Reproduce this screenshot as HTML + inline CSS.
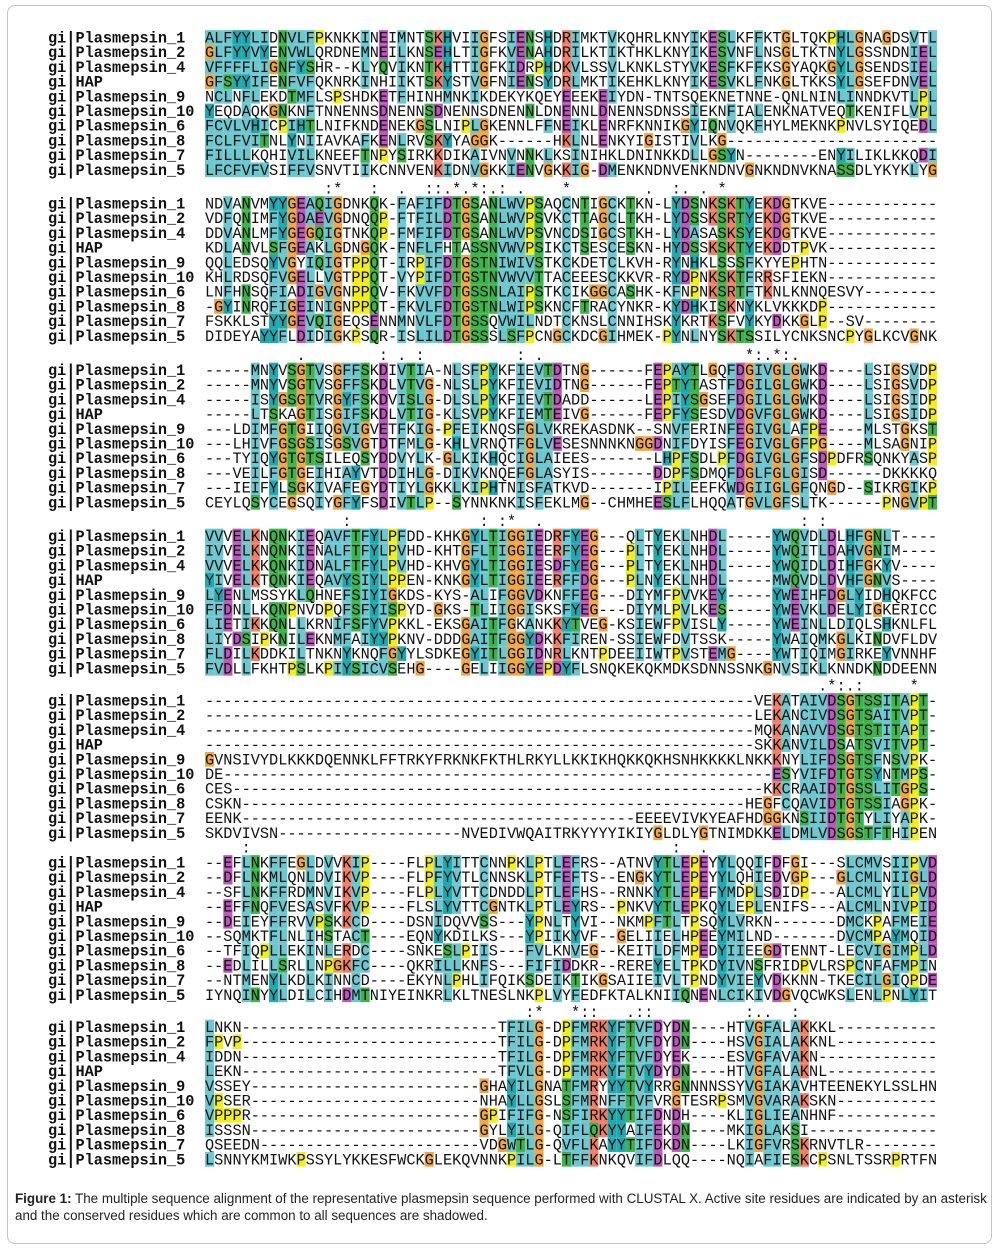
<!DOCTYPE html>
<html><head><meta charset="utf-8">
<style>
html,body{margin:0;padding:0;background:#fff;}
body{width:1000px;height:1250px;position:relative;overflow:hidden;}
#frame{position:absolute;left:7px;top:5px;width:985px;height:1239px;border:1px solid #c4c4c4;border-radius:8px;box-sizing:border-box;}
#caption{position:absolute;left:15px;top:1190px;font-family:"Liberation Sans",sans-serif;font-size:13.4px;line-height:17px;color:#222;white-space:nowrap;}
svg{position:absolute;left:0;top:0;}
</style></head>
<body>
<div id="frame"></div>
<svg id="aln" width="1000" height="1190"></svg>
<div id="caption"><b>Figure 1:</b> The multiple sequence alignment of the representative plasmepsin sequence performed with CLUSTAL X. Active site residues are indicated by an asterisk<br>and the conserved residues which are common to all sequences are shadowed.</div>
<script>
const names = ["gi|Plasmepsin_1","gi|Plasmepsin_2","gi|Plasmepsin_4","gi|HAP","gi|Plasmepsin_9","gi|Plasmepsin_10","gi|Plasmepsin_6","gi|Plasmepsin_8","gi|Plasmepsin_7","gi|Plasmepsin_5"];
const block1 = [
"ALFYYLIDNVLFPKNKKINEIMNTSKHVIIGFSIENSHDRIMKTVKQHRLKNYIKESLKFFKTGLTQKPHLGNAGDSVTL",
"GLFYYVYENVWLQRDNEMNEILKNSEHLTIGFKVENAHDRILKTIKTHKLKNYIKESVNFLNSGLTKTNYLGSSNDNIEL",
"VFFFFLIGNFYSHR--KLYQVIKNTKHTTIGFKIDRPHDKVLSSVLKNKLSTYVKESFKFFKSGYAQKGYLGSENDSIEL",
"GFSYYIFENFVFQKNRKINHIIKTSKYSTVGFNIENSYDRLMKTIKEHKLKNYIKESVKLFNKGLTKKSYLGSEFDNVEL",
"NCLNFLEKDTMFLSPSHDKETFHINHMNKIKDEKYKQEYEEEKEIYDN-TNTSQEKNETNNE-QNLNINLINNDKVTLPL",
"YEQDAQKGNKNFTNNENNSDNENNSDNENNSDNENNLDNENNLDNENNSDNSSIEKNFIALENKNATVEQTKENIFLVPL",
"FCVLVHICPIHTLNIFKNDENEKGSLNIPLGKENNLFFNEIKLENRFKNNIKGYIQNVQKFHYLMEKNKPNVLSYIQEDL",
"FCLFVITNLYNIIAVKAFKENLRVSKYYAGGK------HKLNLENKYIGISTIVLKG-----------------------",
"FILLLKQHIVILKNEEFTNPYSIRKKDIKAIVNVNNKLKSINIHKLDNINKKDLLGSYN--------ENYILIKLKKQDI",
"LFCFVFVSIFFVSNVTIIKCNNVENKIDNVGKKIENVGKKIG-DMENKNDNVENKNDNVGNKNDNVKNASSDLYKYKLYG"];
const block2 = [
"NDVANVMYYGEAQIGDNKQK-FAFIFDTGSANLWVPSAQCNTIGCKTKN-LYDSNKSKTYEKDGTKVE------------",
"VDFQNIMFYGDAEVGDNQQP-FTFILDTGSANLWVPSVKCTTAGCLTKH-LYDSSKSRTYEKDGTKVE------------",
"DDVANLMFYGEGQIGTNKQP-FMFIFDTGSANLWVPSVNCDSIGCSTKH-LYDASASKSYEKDGTKVE------------",
"KDLANVLSFGEAKLGDNGQK-FNFLFHTASSNVWVPSIKCTSESCESKN-HYDSSKSKTYEKDDTPVK------------",
"QQLEDSQYVGYIQIGTPPQT-IRPIFDTGSTNIWIVSTKCKDETCLKVH-RYNHKLSSSFKYYEPHTN------------",
"KHLRDSQFVGELLVGTPPQT-VYPIFDTGSTNVWVVTTACEEESCKKVR-RYDPNKSKTFRRSFIEKN------------",
"LNFHNSQFIADIGVGNPPQV-FKVVFDTGSSNLAIPSTKCIKGGCASHK-KFNPNKSRTFTKNLKNNQESVY--------",
"-GYINRQFIGEINIGNPPQT-FKVLFDTGSTNLWIPSKNCFTRACYNKR-KYDHKISKNYKLVKKKDP------------",
"FSKKLSTYYGEVQIGEQSENNMNVLFDTGSSQVWILNDTCKNSLCNNIHSKYKRTKSFVYKYDKKGLP--SV--------",
"DIDEYAYYFLDIDIGKPSQR-ISLILDTGSSSLSFPCNGCKDCGIHMEK-PYNLNYSKTSSILYCNKSNCPYGLKCVGNK"];
const block3 = [
"-----MNYVSGTVSGFFSKDIVTIA-NLSFPYKFIEVTDTNG------FEPAYTLGQFDGIVGLGWKD----LSIGSVDP",
"-----MNYVSGTVSGFFSKDLVTVG-NLSLPYKFIEVIDTNG------FEPTYTASTFDGILGLGWKD----LSIGSVDP",
"-----ISYGSGTVRGYFSKDVISLG-DLSLPYKFIEVTDADD------LEPIYSGSEFDGILGLGWKD----LSIGSIDP",
"-----LTSKAGTISGIFSKDLVTIG-KLSVPYKFIEMTEIVG------FEPFYSESDVDGVFGLGWKD----LSIGSIDP",
"---LDIMFGTGIIQGVIGVETFKIG-PFEIKNQSFGLVKREKASDNK--SNVFERINFEGIVGLAFPE----MLSTGKST",
"---LHIVFGSGSISGSVGTDTFMLG-KHLVRNQTFGLVESESNNNKNGGDNIFDYISFEGIVGLGFPG----MLSAGNIP",
"---TYIQYGTGTSILEQSYDDVYLK-GLKIKHQCIGLAIEES-------LHPFSDLPFDGIVGLGFSDPDFRSQNKYASP",
"---VEILFGTGEIHIAYVTDDIHLG-DIKVKNQEFGLASYIS-------DDPFSDMQFDGLFGLGISD------DKKKKQ",
"---IEIFYLSGKIVAFEGYDTIYLGKKLKIPHTNISFATKVD-------IPILEEFKWDGIIGLGFQNGD--SIKRGIKP",
"CEYLQSYCEGSQIYGFYFSDIVTLP--SYNNKNKISFEKLMG--CHMHEESLFLHQQATGVLGFSLTK------PNGVPT"];
const block4 = [
"VVVELKNQNKIEQAVFTFYLPFDD-KHKGYLTIGGIEDRFYEG---QLTYEKLNHDL-----YWQVDLDLHFGNLT----",
"IVVELKNQNKIENALFTFYLPVHD-KHTGFLTIGGIEERFYEG---PLTYEKLNHDL-----YWQITLDAHVGNIM----",
"VVVELKKQNKIDNALFTFYLPVHD-KHVGYLTIGGIESDFYEG---PLTYEKLNHDL-----YWQIDLDIHFGKYV----",
"YIVELKTQNKIEQAVYSIYLPPEN-KNKGYLTIGGIEERFFDG---PLNYEKLNHDL-----MWQVDLDVHFGNVS----",
"LYENLMSSYKLQHNEFSIYIGKDS-KYS-ALIFGGVDKNFFEG---DIYMFPVVKEY-----YWEIHFDGLYIDHQKFCC",
"FFDNLLKQNPNVDPQFSFYISPYD-GKS-TLIIGGISKSFYEG---DIYMLPVLKES-----YWEVKLDELYIGKERICC",
"LIETIKKQNLLKRNIFSFYVPKKL-EKSGAITFGKANKKYTVEG-KSIEWFPVISLY-----YWEINLLDIQLSHKNLFL",
"LIYDSIPKNILEKNMFAIYYPKNV-DDDGAITFGGYDKKFIREN-SSIEWFDVTSSK-----YWAIQMKGLKINDVFLDV",
"FLDILKDDKILTNKNYKNQFGYYLSDKEGYITLGGIDNRLKNTPDEEIIWTPVSTEMG----YWTIQIMGIRKEYVNNHF",
"FVDLLFKHTPSLKPIYSICVSEHG----GELIIGGYEPDYFLSNQKEKQKMDKSDNNSSNKGNVSIKLKNNDKNDDEENN"];
const block5 = [
"------------------------------------------------------------VEKATAIVDSGTSSITAPT-",
"------------------------------------------------------------LEKANCIVDSGTSAITVPT-",
"------------------------------------------------------------MQKANAVVDSGTSTITAPT-",
"------------------------------------------------------------SKKANVILDSATSVITVPT-",
"GVNSIVYDLKKKDQENNKLFFTRKYFRKNKFKTHLRKYLLKKIKHQKKQKHSNHKKKKLNKKKNYLIFDSGTSFNSVPK-",
"DE------------------------------------------------------------ESYVIFDTGTSYNTMPS-",
"CES----------------------------------------------------------KKCRAAIDTGSSLITGPS-",
"CSKN-------------------------------------------------------HEGFCQAVIDTGTSSIAGPK-",
"EENK-------------------------------------------EEEEVIVKYEAFHDGGKNSIIDTGTYLIYAPK-",
"SKDVIVSN--------------------NVEDIVWQAITRKYYYYIKIYGLDLYGTNIMDKKELDMLVDSGSTFTHIPEN"];
const block6 = [
"--EFLNKFFEGLDVVKIP----FLPLYITTCNNPKLPTLEFRS--ATNVYTLEPEYYLQQIFDFGI---SLCMVSIIPVD",
"--DFLNKMLQNLDVIKVP----FLPFYVTLCNNSKLPTFEFTS--ENGKYTLEPEYYLQHIEDVGP---GLCMLNIIGLD",
"--SFLNKFFRDMNVIKVP----FLPLYVTTCDNDDLPTLEFHS--RNNKYTLEPEFYMDPLSDIDP---ALCMLYILPVD",
"--EFFNQFVESASVFKVP----FLSLYVTTCGNTKLPTLEYRS--PNKVYTLEPKQYLEPLENIFS---ALCMLNIVPID",
"--DEIEYFFRVVPSKKCD----DSNIDQVVSS---YPNLTYVI--NKMPFTLTPSQYLVRKN-------DMCKPAFMEIE",
"--SQMKTFLNLIHSTACT----EQNYKDILKS---YPIIKYVF--GELIIELHPEEYMILND-------DVCMPAYMQID",
"--TFIQPLLEKINLERDC----SNKESLPIIS---FVLKNVEG--KEITLDFMPEDYIIEEGDTENNT-LECVIGIMPLD",
"--EDLILLSRLLNPGKFC----QKRILLKNFS---FIFIDDKR--REREYELTPKDYIVNSFRIDPVLRSPCNFAFMPIN",
"--NTMENYLKDLKINNCD----EKYNLPHLIFQIKSDEIKTIKGSAIIEIVLTPNDYVIEYVDKKNN-TKECILGIQPDE",
"IYNQINYYLDILCIHDMTNIYEINKRLKLTNESLNKPLVYFEDFKTALKNIIQNENLCIKIVDGVQCWKSLENLPNLYIT"];
const block7 = [
"LNKN----------------------------TFILG-DPFMRKYFTVFDYDN----HTVGFALAKKKL-----------",
"FPVP----------------------------TFILG-DPFMRKYFTVFDYDN----HSVGIALAKKNL-----------",
"IDDN----------------------------TFILG-DPFMRKYFTVFDYEK----ESVGFAVAKN-------------",
"LEKN----------------------------TFVLG-DPFMRKYFTVYDYDN----HTVGFALAKNL------------",
"VSSEY-------------------------GHAYILGNATFMRYYYTVYRRGNNNNSSYVGIAKAVHTEENEKYLSSLHN",
"VPSER-------------------------NHAYLLGSLSFMRNFFTVFVRGTESRPSMVGVARAKSKN-----------",
"VPPPR-------------------------GPIFIFG-NSFIRKYYTIFDNDH----KLIGLIEANHNF-----------",
"ISSSN-------------------------GYLYILG-QIFLQKYYAIFEKDN----MKIGLAKSI--------------",
"QSEEDN------------------------VDGWTLG-QVFLKAYYTIFDKDN----LKIGFVRSKRNVTLR--------",
"LSNNYKMIWKPSSYLYKKESFWCKGLEKQVNNKPILG-LTFFKNKQVIFDLQQ----NQIAFIESKCPSNLTSSRPRTFN"];
const blocks = [block1,block2,block3,block4,block5,block6,block7];
const blockTops = [37.5,203.5,370,536,700.5,862.5,1027];

const NS="http://www.w3.org/2000/svg";
const svg=document.getElementById('aln');
const CW=9.15, RH=14.7, X0=205, NX=48;
const COL={hyd:"#6cc7ce",cyan:"#1ea9b1",red:"#f07f68",mag:"#bb56bb",green:"#3db44b",orange:"#efa644",yellow:"#f2ee1e"};
function frac(col,set){let n=0;for(const c of col) if(set.includes(c)) n++;return n/col.length;}
function colour(ch,col){
  const H=frac(col,"WLVIMAFCHPY");
  switch(ch){
    case 'A':case 'I':case 'L':case 'M':case 'F':case 'W':case 'V':case 'C':
      return H>=0.6?COL.hyd:null;
    case 'K':case 'R':
      return (frac(col,"KR")>=0.6||frac(col,"K")>0.8||frac(col,"R")>0.8)?COL.red:null;
    case 'E':
      return (frac(col,"KR")>=0.6||frac(col,"QE")>=0.5||frac(col,"ED")>=0.5)?COL.mag:null;
    case 'D':
      return (frac(col,"KR")>=0.6||frac(col,"ED")>=0.5)?COL.mag:null;
    case 'N':
      return frac(col,"N")>=0.5?COL.green:null;
    case 'Q':
      return (frac(col,"KR")>=0.6||frac(col,"QE")>=0.5)?COL.green:null;
    case 'S':case 'T':
      return (H>=0.6||frac(col,"ST")>=0.5)?COL.green:null;
    case 'G': return COL.orange;
    case 'P': return COL.yellow;
    case 'H':case 'Y':
      return (H>=0.6||frac(col,"WYACPQFHILMV")>0.85)?COL.cyan:null;
  }
  return null;
}
const strong=["STA","NEQK","NHQK","NDEQ","QHRK","MILV","MILF","HY","FYW"];
const weak=["CSA","ATV","SAG","STNK","STPA","SGND","SNDEQK","NDEQHK","NEQHRK","FVLIM","HFY"];
function consChar(col){
  if(col.includes('-')) return ' ';
  if(col.every(c=>c===col[0])) return '*';
  if(strong.some(g=>col.every(c=>g.includes(c)))) return ':';
  if(weak.some(g=>col.every(c=>g.includes(c)))) return '.';
  return ' ';
}
function mk(tag,attrs){const e=document.createElementNS(NS,tag);for(const k in attrs) e.setAttribute(k,attrs[k]);return e;}
const FONT='"Liberation Mono",monospace';
blocks.forEach((blk,b)=>{
  const top=blockTops[b];
  const g=mk('g',{});
  
  
  svg.appendChild(g);
  const seqs=blk.map(s=>(s+'-'.repeat(80)).slice(0,80));
  const L=80;
  const cols=[];
  for(let c=0;c<L;c++) cols.push(seqs.map(s=>s[c]));
  if(b>0){
    let cl='';
    for(let c=0;c<L;c++) cl+=consChar(cols[c]);
    const t=mk('text',{x:X0,y:top-15+5,'font-family':FONT,'font-size':'15.25px',fill:'#111'});
    
    
    t.textContent=cl;
    t.setAttribute('style','white-space:pre');
    g.appendChild(t);
  }
  seqs.forEach((s,r)=>{
    const cy=top+r*RH;
    for(let c=0;c<L;c++){
      const ch=s[c]; if(ch==='-') continue;
      const fill=colour(ch,cols[c]);
      if(!fill) continue;
      const rc=mk('rect',{x:(X0+c*CW).toFixed(2),y:(cy-RH/2).toFixed(2),width:CW.toFixed(2),height:RH.toFixed(2),fill:fill});
      
      
      g.appendChild(rc);
    }
    const nm=mk('text',{x:NX,y:cy+5,'font-family':FONT,'font-size':'15.25px','font-weight':'bold',fill:'#111'});
    
    
    nm.textContent=names[r];
    g.appendChild(nm);
    const tx=mk('text',{x:X0,y:cy+5,'font-family':FONT,'font-size':'15.25px',fill:'#111'});
    
    
    tx.textContent=s;
    g.appendChild(tx);
  });
});
</script>
</body></html>
